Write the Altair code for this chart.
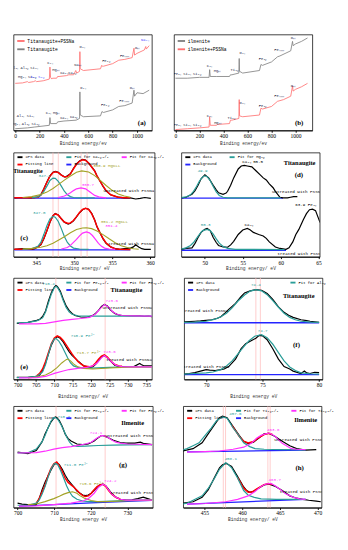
import altair as alt
import pandas as pd

# ---------------- colours ----------------
TEAL = "#2a9d98"; MAG = "#ff30ff"; OLV = "#a3a326"; RED = "#ff0000"
BLU = "#2424ff"; BLK = "#000000"; PINK = "#ffbcbc"; SRED = "#ff7070"; GRY = "#808080"
LBL = "#202040"

# ---------------- (a) survey, titanaugite ----------------
A_PSS = [[0,55],[60,55.5],[100,57],[110,56],[150,57],[165,58],[175,57],[230,58],[280,60],[285,74],[290,62],[300,60],[305,61],[340,61],[348,63],[360,63],[420,64],[440,65],[480,65],[497,70],[505,67],[528,69],[531,92],[534,72],[560,70],[700,72],[710,76],[715,75],[725,75],[800,78],[850,82],[900,83],[960,85],[975,96],[980,88],[1000,90],[1060,94],[1072,98],[1076,95],[1100,99]]
A_RAW = [[0,2],[100,3],[160,4],[280,6],[285,15],[290,8],[340,8],[348,10],[400,11],[500,12],[528,14],[531,45],[534,18],[560,16],[700,17],[712,22],[725,21],[800,24],[850,28],[900,29],[960,32],[975,47],[980,40],[1000,44],[1050,43],[1100,47]]
A_LABELS = [[75,73,"Al₂ₛ Al₂ₚ Si₂ₛ",LBL],[95,62,"Mg₂ₛ Si₂ₚ",LBL],[180,62,"S₂ₛ S₂ₚ","#3333ff"],[286,79,"C₁ₛ",LBL],[335,70,"Mgₖₗₗ",LBL],[400,67,"Ca₂ₛ",LBL],[466,67,"Ca₂ₚ",LBL],[515,76,"Naₖₗₗ",LBL],[550,97,"O₁ₛ",LBL],[745,81,"Fe₂ₚ",LBL],[898,87,"Feₗₘₘ",LBL],[1005,96,"Oₖₗₗ",LBL],[1065,105,"Na₁ₛ","#3333ff"],
            [85,17,"Al₂ₛ Si₂ₛ",LBL],[85,7,"Mg₂ₛ Al₂ₚ Si₂ₚ",LBL],[273,20,"C₁ₛ",LBL],[340,20,"Mgₖₗₗ",LBL],[400,14,"Ca₂ₛ",LBL],[480,16,"Ca₂ₚ",LBL],[557,49,"O₁ₛ",LBL],[735,30,"Fe₂ₚ",LBL],[893,34,"Feₗₘₘ",LBL],[962,50,"Oₖₗₗ",LBL]]

# ---------------- (b) survey, ilmenite ----------------
B_RAW = [[0,61],[100,61],[200,62],[280,62],[285,71],[290,63],[340,63],[450,63],[458,65],[470,65],[528,67],[531,84],[534,69],[560,67],[700,70],[712,77],[725,76],[800,80],[850,86],[870,87],[960,93],[975,104],[980,99],[1000,101],[1050,104],[1100,108]]
B_PSS = [[0,1],[100,2],[200,3],[280,4],[285,16],[290,6],[340,6],[350,7],[450,8],[458,12],[470,12],[528,14],[531,36],[534,17],[560,16],[700,18],[712,26],[725,25],[800,28],[850,34],[900,36],[960,40],[975,52],[980,46],[1000,48],[1050,51],[1100,55]]
B_LABELS = [[97,66,"Fe₃ₛ Si₂ₛ Si₂ₚ",LBL],[284,75,"C₁ₛ",LBL],[350,69,"Mgₖₗₗ",LBL],[490,70,"Ti₂ₚ",LBL],[557,90,"O₁ₛ",LBL],[726,83,"Fe₂ₚ",LBL],[863,94,"Feₗₘₘ",LBL],[982,108,"Oₖₗₗ",LBL],
            [97,6,"Fe₃ₛ Si₂ₛ Si₂ₚ",LBL],[284,17,"C₁ₛ",LBL],[353,9,"Mgₖₗₗ",LBL],[465,14,"Ti₂ₚ",LBL],[557,32,"O₁ₛ",LBL],[726,29,"Fe₂ₚ",LBL],[863,40,"Feₗₘₘ",LBL],[982,52,"Oₖₗₗ",LBL]]

# ---------------- (c) Ca 2p, titanaugite ----------------
C_XPS_UP = [[342.1,197],[343.2,198],[344.4,197],[345.2,199],[345.6,207],[346.0,227],[346.4,250],[346.8,270],[347.2,282],[347.5,285],[347.9,282],[348.3,273],[348.7,267],[348.9,267],[349.5,277],[349.9,295],[350.3,310],[350.7,320],[351.1,325],[351.5,323],[351.9,313],[352.3,300],[352.7,287],[353.0,270],[353.4,253],[353.8,235],[354.2,220],[354.8,207],[355.8,199],[356.6,197],[357.4,197],[358.1,193],[358.7,195],[359.3,198],[360.1,195]]
C_FIT_UP = [[342.1,197],[344.4,197],[345.2,199],[345.6,206],[346.0,226],[346.4,249],[346.8,269],[347.2,281],[347.5,284],[347.9,281],[348.3,273],[348.7,267],[349.1,268],[349.5,277],[349.9,294],[350.3,309],[350.7,319],[351.1,324],[351.5,322],[351.9,313],[352.3,300],[352.7,286],[353.0,270],[353.4,253],[353.8,236],[354.2,221],[354.8,207],[355.8,199],[356.6,197],[357.4,197]]
C_P32_UP = [[344.4,197],[345.2,200],[345.6,206],[346.0,218],[346.4,236],[346.8,255],[347.2,263],[347.5,262],[347.9,252],[348.3,236],[348.7,219],[349.1,207],[349.5,201],[349.9,198],[350.7,197],[352.7,197]]
C_MG_UP = [[343.2,198],[344.4,201],[345.6,208],[346.4,216],[347.2,228],[347.9,241],[348.7,256],[349.5,270],[350.3,282],[351.0,287],[351.9,283],[352.7,271],[353.4,256],[354.2,238],[355.0,222],[355.8,210],[356.6,203],[357.4,199]]
C_P12_UP = [[347.9,198],[348.7,203],[349.1,208],[349.5,214],[349.9,221],[350.3,227],[350.9,230],[351.5,227],[351.9,220],[352.3,212],[352.7,205],[353.4,199],[354.2,197]]
C_BG_UP = [[342.1,196],[357.4,196]]
C_XPS_LO = [[342.1,25],[343.2,27],[344.4,25],[344.8,27],[345.6,40],[346.0,60],[346.4,87],[346.8,115],[347.2,137],[347.5,145],[347.9,140],[348.3,127],[348.7,115],[349.2,109],[349.5,112],[349.9,120],[350.3,133],[350.7,147],[351.1,157],[351.5,162],[351.9,159],[352.3,145],[352.7,123],[353.0,100],[353.4,80],[353.8,60],[354.2,45],[354.8,33],[355.4,27],[356.0,25],[356.6,27],[357.4,29],[357.8,33],[358.1,40],[358.5,33],[358.9,27],[359.3,25],[360.1,25]]
C_FIT_LO = [[342.1,25],[344.4,26],[345.2,32],[345.6,42],[346.0,62],[346.4,88],[346.8,116],[347.2,137],[347.5,143],[347.9,139],[348.3,127],[348.7,116],[349.2,111],[349.5,113],[349.9,121],[350.3,134],[350.7,148],[351.1,158],[351.5,162],[351.9,158],[352.3,144],[352.7,122],[353.0,101],[353.4,80],[353.8,61],[354.2,46],[354.8,33],[355.4,27],[356.0,25],[357.4,24]]
C_P32_LO = [[343.2,25],[344.4,27],[345.2,35],[345.6,48],[346.0,75],[346.4,104],[346.8,127],[347.2,135],[347.5,132],[347.9,118],[348.3,94],[348.7,68],[349.1,48],[349.5,36],[349.9,29],[350.7,26],[351.9,25]]
C_MG_LO = [[343.2,26],[344.4,28],[345.6,32],[346.4,37],[347.2,45],[347.9,55],[348.7,67],[349.5,80],[350.3,91],[351.1,96],[351.6,97],[352.3,94],[353.0,86],[353.8,74],[354.6,60],[355.4,47],[356.2,37],[357.0,31],[357.8,27],[358.5,25]]
C_P12_LO = [[348.3,26],[349.1,31],[349.5,38],[349.9,48],[350.3,58],[350.7,70],[351.1,79],[351.6,83],[352.0,80],[352.4,71],[352.8,58],[353.2,45],[353.6,35],[354.0,29],[354.6,26],[355.4,25]]
C_BG_LO = [[342.1,23],[357.4,23]]
C_VLINES = [347.2, 347.9, 350.9, 351.7]
C_LABELS = [[346.1,270,"347.1",TEAL],[354.3,303,"350.9 MgKLL",OLV],[351.8,241,"350.7",MAG],[345.4,147,"347.0",TEAL],[355.3,117,"351.2 MgKLL",OLV],[354.9,103,"351.4",MAG]]
C_COND = [[357.2,218,"untreated with PSSNa"],[357.5,42,"treated with PSSNa"]]

# ---------------- (d) Mg 2p, titanaugite ----------------
D_XPS_UP = [[46.9,198],[47.5,200],[48.3,210],[48.7,222],[49.1,240],[49.5,262],[50.0,275],[50.5,265],[51.1,240],[51.5,225],[51.8,215],[52.4,210],[52.8,214],[53.0,220],[53.4,240],[53.8,265],[54.4,295],[54.8,305],[55.2,307],[55.6,305],[56.2,302],[56.7,290],[57.3,275],[57.7,265],[58.1,258],[58.5,245],[59.0,232],[59.3,220],[59.9,200],[60.3,198],[60.9,198],[61.3,200],[61.7,202],[62.2,202]]
D_MG_UP = [[46.9,199],[47.5,201],[48.1,208],[48.5,220],[48.9,236],[49.3,255],[49.7,268],[50.0,272],[50.3,269],[50.7,256],[51.1,236],[51.5,218],[51.9,206],[52.4,200],[53.0,198],[60.0,198]]
D_BG_UP = [[46.9,197],[60.3,197]]
D_XPS_LO = [[46.9,25],[47.5,28],[48.3,30],[48.7,45],[49.1,65],[49.5,82],[50.0,92],[50.3,95],[50.7,88],[51.1,65],[51.5,48],[51.8,38],[52.4,33],[53.0,32],[53.4,40],[53.8,52],[54.4,75],[55.0,90],[55.6,95],[56.0,90],[56.4,82],[57.1,75],[57.7,70],[58.1,62],[58.5,50],[59.3,33],[59.9,28],[60.7,25],[61.1,30],[61.6,50],[62.0,75],[62.4,92],[63.0,125],[63.4,145],[63.8,158],[64.2,160],[64.6,155],[64.9,135],[65.2,115]]
D_MG_LO = [[46.9,26],[47.5,30],[48.1,38],[48.5,48],[48.9,62],[49.3,76],[49.7,88],[50.3,92],[50.7,88],[51.1,76],[51.5,60],[51.9,46],[52.4,35],[53.0,28],[54.0,25],[60.5,24]]
D_BG_LO = [[46.9,22],[60.7,22]]
D_LABELS = [[49.7,287,"49.9",TEAL],[56.3,318,"Ca₃ₛ 55.5",BLK],[50.1,106,"50.3",TEAL],[55.8,106,"Ca₃ₛ",BLK],[63.3,172,"63.9 Fe₃ₛ",BLK]]
D_COND = [[62.2,218,"untreated with PSSNa"],[62.6,10,"treated with PSSNa"]]

# ---------------- (e) Fe 2p, titanaugite ----------------
E_XPS_UP = [[699.8,187],[702.8,190],[705.2,197],[706.0,200],[706.8,210],[707.6,228],[708.4,262],[709.2,290],[710.0,308],[710.4,313],[710.8,310],[711.6,295],[712.4,268],[713.2,245],[714.0,230],[714.8,220],[715.6,213],[717.2,208],[718.8,207],[720.4,213],[721.2,220],[722.0,230],[722.8,243],[723.6,250],[724.4,245],[725.2,232],[726.4,220],[727.6,214],[728.4,213],[731.6,212],[733.2,212],[734.4,210],[735.6,211],[737.2,208]]
E_P32_UP = [[699.8,188],[702.8,190],[705.2,195],[706.8,205],[707.6,225],[708.4,255],[709.2,285],[710.0,306],[710.4,310],[710.8,307],[711.6,290],[712.4,263],[713.2,240],[714.0,225],[714.8,217],[716.4,212],[718.8,211],[737.0,211]]
E_P12_UP = [[700.4,185],[705.2,185],[707.6,187],[710.0,192],[712.4,197],[714.8,200],[717.2,203],[719.6,207],[721.2,218],[722.4,235],[723.6,250],[724.8,240],[725.6,228],[726.8,218],[728.4,213],[731.6,212],[737.0,211]]
E_XPS_LO = [[699.8,7],[702.8,7],[705.2,10],[706.0,15],[706.8,30],[707.6,55],[708.4,85],[709.2,115],[710.0,135],[710.8,142],[711.6,137],[712.4,125],[713.2,108],[714.0,93],[714.8,80],[716.4,62],[718.0,45],[719.6,40],[720.4,42],[721.2,50],[722.0,62],[722.8,75],[723.6,80],[724.4,72],[725.2,62],[726.4,47],[727.6,43],[728.4,43],[731.6,43],[733.2,53],[733.6,50],[734.4,45],[735.6,45],[737.2,45]]
E_FIT_LO = [[705.2,12],[706.0,20],[706.8,35],[707.6,60],[708.4,90],[709.2,120],[710.0,138],[710.8,145],[711.6,140],[712.4,130],[713.2,115],[714.0,100],[714.8,85],[715.6,72],[716.4,60],[717.2,52],[718.0,45],[719.6,42],[720.4,45],[721.2,55],[722.0,67],[722.8,78],[723.6,82],[724.4,75],[725.2,63],[726.4,50],[727.6,45],[728.4,44]]
E_P32_LO = [[699.8,6],[702.8,7],[705.2,10],[706.8,25],[707.6,50],[708.4,85],[709.2,118],[710.0,135],[710.4,137],[711.2,128],[712.0,112],[712.8,92],[713.6,72],[714.4,55],[715.2,45],[716.4,40],[718.0,38],[720.0,38],[725.0,40],[730.0,42],[737.0,42]]
E_FE3_LO = [[702.8,5],[705.2,8],[707.6,15],[709.2,25],[710.8,40],[712.0,55],[713.2,66],[713.6,68],[714.4,62],[715.2,52],[716.4,42],[718.0,37],[720.4,35],[725.0,38],[730.0,41],[737.0,42]]
E_P12_LO = [[700.4,5],[702.8,5],[705.2,6],[707.6,10],[710.0,20],[712.4,28],[714.0,33],[716.4,37],[718.8,40],[720.4,45],[721.6,55],[722.8,72],[723.6,80],[724.4,72],[725.6,58],[726.8,47],[728.4,43],[731.6,42],[737.0,42]]
E_VLINES = [710.4, 723.8]
E_LABELS = [[708.4,318,"710.4",TEAL],[725.6,262,"723.6",MAG],[717.6,146,"710.9 Fe²⁺",TEAL],[719.2,88,"713.7 Fe³⁺",OLV],[725.0,91,"723.6",MAG]]
E_COND = [[730.0,238,"untreated with PSSNa"],[730.3,64,"treated with PSSNa"]]

# ---------------- (f) Al 2p, titanaugite ----------------
F_XPS_UP = [[68.0,193],[69.0,195],[69.5,196],[70.0,198],[70.5,200],[71.0,205],[71.3,210],[71.6,220],[72.0,235],[72.6,255],[73.1,278],[73.4,290],[73.9,297],[74.4,301],[74.9,299],[75.1,295],[75.4,288],[75.9,268],[76.4,243],[76.9,225],[77.3,215],[77.7,208],[78.4,200],[78.9,197],[79.2,195],[80.0,191]]
F_AL_UP = [[68.0,191],[69.0,192],[70.0,195],[70.8,202],[71.3,210],[71.8,222],[72.3,240],[72.8,262],[73.4,283],[73.9,296],[74.4,301],[74.9,297],[75.4,284],[75.9,264],[76.4,242],[76.9,222],[77.4,208],[77.9,200],[78.4,195],[79.2,192],[80.0,191]]
F_BG_UP = [[68.0,190],[80.0,190]]
F_XPS_LO = [[68.0,18],[68.5,20],[69.0,23],[69.5,28],[70.0,33],[70.3,31],[70.8,30],[71.3,33],[71.6,35],[72.0,43],[72.6,68],[73.1,103],[73.5,120],[73.9,128],[74.4,138],[74.7,148],[75.0,146],[75.4,133],[75.9,103],[76.4,68],[76.9,43],[77.4,35],[77.7,28],[78.4,20],[78.7,28],[78.9,22],[79.2,20],[79.6,24],[80.0,23]]
F_AL_LO = [[68.0,18],[69.0,20],[70.0,22],[70.6,25],[71.3,33],[71.8,45],[72.3,62],[72.8,85],[73.3,108],[73.8,130],[74.3,145],[74.9,150],[75.4,140],[75.9,118],[76.4,90],[76.9,62],[77.4,42],[77.9,30],[78.4,22],[79.2,19],[80.0,18]]
F_BG_LO = [[68.0,16],[80.0,16]]
F_VLINES = [74.4, 74.8]
F_LABELS = [[74.4,317,"74.4",TEAL],[75.0,162,"74.7",TEAL]]
F_COND = [[69.7,228,"untreated with PSSNa"],[70.0,40,"treated with PSSNa"]]

# ---------------- (g) Fe 2p, ilmenite ----------------
G_XPS_UP = [[700.0,185],[702.8,180],[705.1,190],[705.9,205],[706.7,220],[707.5,245],[708.3,265],[709.1,285],[709.9,298],[710.3,302],[710.7,300],[711.4,290],[712.2,270],[713.0,245],[713.8,230],[714.6,222],[716.2,212],[717.8,210],[719.3,212],[720.9,222],[721.7,230],[722.9,240],[723.4,240],[724.1,236],[724.9,232],[726.0,225],[726.8,222],[728.0,217],[729.6,215],[732.0,215],[733.5,218],[734.3,214],[736.7,210]]
G_P32_UP = [[700.0,182],[702.8,183],[705.1,195],[706.7,220],[707.5,240],[708.3,265],[709.1,288],[709.9,300],[710.3,300],[711.0,294],[711.8,278],[712.6,258],[713.4,235],[714.2,218],[715.0,208],[716.2,204],[718.5,205],[722.0,207],[726.0,208],[730.0,209],[736.7,210]]
G_P12_UP = [[700.0,182],[705.1,183],[707.5,188],[709.9,195],[712.2,200],[714.6,203],[717.0,208],[718.5,212],[720.1,218],[721.7,232],[722.9,240],[723.4,240],[724.5,235],[725.7,225],[726.8,218],[728.0,215],[730.0,212],[736.7,210]]
G_XPS_LO = [[700.0,15],[701.2,12],[702.8,10],[705.1,10],[705.9,30],[706.7,60],[707.5,85],[708.3,105],[709.1,125],[709.9,142],[710.7,150],[711.4,143],[712.2,128],[713.0,108],[713.8,92],[714.6,80],[715.4,68],[716.2,55],[717.8,42],[718.5,40],[719.3,42],[720.1,48],[720.9,58],[721.7,68],[722.5,76],[723.3,78],[724.1,72],[724.9,60],[725.7,47],[726.8,35],[728.0,28],[729.6,25],[731.2,26],[732.8,30],[734.3,35],[735.5,30],[736.7,25]]
G_FIT_LO = [[705.1,15],[705.9,30],[706.7,52],[707.5,75],[708.3,105],[709.1,130],[709.9,146],[710.7,152],[711.4,140],[712.2,120],[713.0,98],[713.8,84],[714.6,76],[715.4,68],[716.2,58],[717.0,48],[717.8,40],[718.5,37],[719.3,39],[720.1,48],[720.9,60],[721.7,70],[722.5,76],[723.3,78],[724.1,70],[724.9,56],[725.7,45],[726.8,34],[728.0,29]]
G_P32_LO = [[700.0,8],[702.8,8],[705.1,15],[705.9,25],[706.7,45],[707.5,70],[708.3,100],[709.1,128],[709.9,145],[710.3,148],[711.0,142],[711.8,122],[712.6,98],[713.4,72],[714.2,52],[715.0,38],[716.2,28],[717.8,22],[719.3,20],[722.0,20],[726.0,22],[730.0,24],[736.7,26]]
G_FE3_LO = [[702.8,10],[705.1,12],[707.5,20],[709.9,30],[711.4,38],[712.6,45],[713.8,50],[715.0,53],[716.2,48],[717.0,40],[718.5,30],[720.1,24],[721.7,20],[724.0,20],[730.0,23],[736.7,25]]
G_P12_LO = [[700.4,5],[705.1,6],[709.9,10],[714.6,15],[717.8,22],[719.3,30],[720.9,48],[722.1,68],[723.3,78],[724.1,72],[724.9,58],[725.7,45],[726.8,35],[728.0,28],[729.6,25],[732.0,25],[736.7,25]]
G_BG_LO = [[700.4,5],[710.0,10],[720.0,16],[730.0,21],[736.7,24]]
G_VLINES = [710.5, 723.9]
G_LABELS = [[712.6,302,"710.7",TEAL],[721.4,249,"724.1",MAG],[715.8,141,"711.0 Fe²⁺",TEAL],[720.0,78,"715.6 Fe³⁺",OLV],[725.3,87,"724.2",MAG]]
G_COND = [[730.8,237,"untreated with PSSNa"],[731.6,50,"treated with PSSNa"]]

# ---------------- (h) Ti 2p, ilmenite ----------------
H_XPS_UP = [[452.1,192],[453.5,200],[454.7,220],[455.5,250],[456.3,280],[457.0,305],[457.4,310],[458.0,305],[458.8,275],[459.6,245],[460.2,225],[460.8,217],[461.5,222],[462.3,238],[462.9,250],[463.5,252],[464.3,242],[465.3,225],[466.3,210],[467.2,200],[468.4,195],[469.8,197]]
H_PA_UP = [[452.1,195],[452.7,200],[453.5,210],[454.3,220],[455.1,245],[455.9,270],[456.6,295],[457.4,308],[458.0,303],[458.8,270],[459.4,250],[460.2,220],[461.0,207],[461.7,200],[462.9,198],[465.3,197],[467.2,197],[468.4,195]]
H_PB_UP = [[452.7,188],[455.1,190],[457.0,192],[458.8,198],[460.2,205],[461.2,218],[461.9,235],[462.5,245],[463.1,250],[463.6,253],[464.3,243],[465.3,218],[466.5,200],[467.2,198],[468.4,197]]
H_FIT_UP = [[458.6,280],[459.2,258],[459.6,242],[460.2,225],[460.8,219],[461.5,224],[462.1,236],[462.9,248],[463.5,252],[464.0,248]]
H_BG_UP = [[452.7,189],[468.4,195]]
H_XPS_LO = [[452.1,15],[453.5,20],[454.7,35],[455.5,60],[456.3,100],[457.0,135],[457.4,145],[457.9,150],[458.6,140],[459.4,105],[460.2,70],[460.6,58],[461.0,52],[461.5,55],[462.1,65],[462.9,77],[463.5,80],[464.3,73],[465.3,58],[466.3,40],[467.2,32],[468.0,28],[468.8,25],[469.8,22],[470.4,20]]
H_PA_LO = [[452.1,12],[452.7,15],[454.7,40],[455.5,65],[456.3,98],[457.0,130],[457.8,152],[458.0,150],[458.6,135],[459.4,100],[460.2,58],[460.8,42],[461.6,35],[462.5,30],[464.5,28],[466.8,28],[468.4,28]]
H_PB_LO = [[452.7,12],[455.1,14],[457.8,20],[459.4,28],[460.8,40],[461.7,55],[462.5,72],[463.1,80],[463.8,82],[464.3,75],[465.0,62],[465.7,48],[466.8,35],[467.6,30],[468.4,28]]
H_FIT_LO = [[459.4,102],[460.2,66],[460.8,52],[461.3,53],[462.1,66],[462.9,78],[463.5,82],[464.0,78]]
H_BG_LO = [[452.7,12],[468.4,28]]
H_VLINES = [457.5, 457.8, 463.4, 463.7]
H_LABELS = [[459.1,318,"457.6",TEAL],[464.1,264,"463.6",MAG],[458.5,164,"458.1",TEAL],[464.3,93,"463.7",MAG]]
H_COND = [[467.6,230,"untreated with PSSNa"],[468.0,52,"treated with PSSNa"]]


def curves_df(curves):
    rows = []
    for s, g, pts in curves:
        for x, y in pts:
            rows.append({"x": x, "y": y, "s": s, "g": g})
    return pd.DataFrame(rows)


def panel(p):
    xs = alt.X("x:Q", scale=alt.Scale(domain=p["xdom"], nice=False, zero=False),
               axis=alt.Axis(values=p["ticks"], title=p["xtitle"], titlePadding=p["tpad"],
                             labelFlush=False, format="d"))
    ys = alt.Y("y:Q", scale=alt.Scale(domain=p["ydom"], nice=False, zero=False), axis=None)
    col = alt.Color("s:N", scale=alt.Scale(domain=p["cdom"], range=p["crange"]),
                    legend=alt.Legend(title=None, values=p["lvals"], orient="none", offset=0, padding=0,
                                      direction="horizontal",
                                      legendX=p["lx"], legendY=p["ly"], columns=p["lcols"],
                                      columnPadding=p["lcp"], labelFontSize=p.get("lfs", 4.2),
                                      symbolSize=p.get("lss", 30)))
    layers = []
    if p.get("vlines"):
        layers.append(alt.Chart(pd.DataFrame({"x": p["vlines"]}))
                      .mark_rule(color=PINK, strokeWidth=0.8).encode(x=xs))
    for s, w in p["draw"]:
        df = curves_df([c for c in p["curves"] if c[0] == s])
        layers.append(alt.Chart(df).mark_line(strokeWidth=w, clip=True)
                      .encode(x=xs, y=ys, color=col, detail="g:N"))
    if p.get("labels"):
        lab = pd.DataFrame(p["labels"], columns=["x", "y", "t", "c"])
        layers.append(alt.Chart(lab).mark_text(font="Liberation Mono", fontSize=p.get("nfs", 4.5), clip=True)
                      .encode(x=xs, y=ys, text="t:N", fill=alt.Fill("c:N", scale=None)))
    if p.get("cond"):
        cd = pd.DataFrame(p["cond"], columns=["x", "y", "t"])
        layers.append(alt.Chart(cd).mark_text(font="Liberation Mono", fontSize=4.6, color=BLK, clip=True)
                      .encode(x=xs, y=ys, text="t:N"))
    if p.get("name"):
        nd = pd.DataFrame([p["name"]], columns=["x", "y", "t"])
        layers.append(alt.Chart(nd).mark_text(font="Liberation Serif", fontSize=p.get("nmfs", 7), fontWeight="bold",
                                              color=BLK, clip=True)
                      .encode(x=xs, y=ys, text="t:N"))
    td = pd.DataFrame([p["tag"]], columns=["x", "y", "t"])
    layers.append(alt.Chart(td).mark_text(font="Liberation Serif", fontSize=7.5, fontWeight="bold", color=BLK, clip=True)
                  .encode(x=xs, y=ys, text="t:N"))
    return alt.layer(*layers).properties(width=p["w"], height=p["h"])


def hr_curves(xps_up, fit_up, a_up, ol_up, b_up, bg_up, xps_lo, fit_lo, a_lo, ol_lo, b_lo, bg_lo, names):
    out = []
    for s, up, lo in [(names[0], xps_up, xps_lo), (names[3], fit_up, fit_lo), (names[1], a_up, a_lo),
                      (names[5], ol_up, ol_lo), (names[2], b_up, b_lo), (names[4], bg_up, bg_lo)]:
        if up:
            out.append((s, "up", up))
        if lo:
            out.append((s, "lo", lo))
    return out


def hr_panel(names, curves, **kw):
    base = dict(cdom=names, crange=[BLK, TEAL, MAG, RED, BLU, OLV], lvals=names[:5],
                draw=[(names[4], 1.4), (names[0], 1.3), (names[3], 1.6), (names[1], 1.3), (names[5], 1.2), (names[2], 1.3)],
                curves=curves, lx=3, ly=1, lcols=3, lcp=9)
    base.update(kw)
    return panel(base)


BE = "Binding energy/ eV"

pa = panel(dict(xdom=[-14, 1122], ydom=[0, 112], ticks=[0, 200, 400, 600, 800, 1000], xtitle="Binding energy/ev",
                tpad=2, cdom=["Titanaugite+PSSNa", "Titanaugite"], crange=[SRED, GRY],
                lvals=["Titanaugite+PSSNa", "Titanaugite"], lx=3, ly=2, lcols=1, lcp=4, lfs=5, lss=64,
                draw=[("Titanaugite", 0.9), ("Titanaugite+PSSNa", 0.9)],
                curves=[("Titanaugite+PSSNa", "up", A_PSS), ("Titanaugite", "lo", A_RAW)],
                labels=A_LABELS, nfs=4.0, tag=[1040, 9, "(a)"], w=150, h=104))
pb = panel(dict(xdom=[-12, 1140], ydom=[0, 112], ticks=[0, 200, 400, 600, 800, 1000], xtitle="Binding energy/ev",
                tpad=2, cdom=["ilmenite", "ilmenite+PSSNa"], crange=[GRY, SRED],
                lvals=["ilmenite", "ilmenite+PSSNa"], lx=3, ly=2, lcols=1, lcp=4, lfs=5, lss=64,
                draw=[("ilmenite", 0.9), ("ilmenite+PSSNa", 0.9)],
                curves=[("ilmenite", "up", B_RAW), ("ilmenite+PSSNa", "lo", B_PSS)],
                labels=B_LABELS, nfs=4.0, tag=[1030, 9, "(b)"], w=150, h=104))

cn = ["XPS data", "Fit for Ca₂ₚ₃/₂", "Fit for Ca₂ₚ₁/₂", "Fitting line", "Background", "MgKLL"]
pc = hr_panel(cn, hr_curves(C_XPS_UP, C_FIT_UP, C_P32_UP, C_MG_UP, C_P12_UP, C_BG_UP,
                            C_XPS_LO, C_FIT_LO, C_P32_LO, C_MG_LO, C_P12_LO, C_BG_LO, cn),
              xdom=[342.0, 360.6], ydom=[0, 348], ticks=[345, 350, 355, 360], xtitle=BE, tpad=1,
              vlines=C_VLINES, labels=C_LABELS, cond=C_COND, name=[343.9, 287, "Titanaugite"], nmfs=6.5,
              tag=[343.4, 62, "(c)"], w=153, h=113)

dn = ["XPS data", "Fit for Mg₂ₚ", "Background"]
pd_ = panel(dict(xdom=[46.9, 65.15], ydom=[0, 350], ticks=[50, 55, 60, 65], xtitle=BE, tpad=1,
                 cdom=dn, crange=[BLK, TEAL, BLU], lvals=dn, lx=3, ly=1, lcols=2, lcp=9,
                 draw=[("Background", 1.4), ("XPS data", 1.3), ("Fit for Mg₂ₚ", 1.3)],
                 curves=[("XPS data", "up", D_XPS_UP), ("XPS data", "lo", D_XPS_LO),
                         ("Fit for Mg₂ₚ", "up", D_MG_UP), ("Fit for Mg₂ₚ", "lo", D_MG_LO),
                         ("Background", "up", D_BG_UP), ("Background", "lo", D_BG_LO)],
                 labels=D_LABELS, cond=D_COND, name=[62.5, 316, "Titanaugite"], tag=[62.4, 275, "(d)"],
                 w=150, h=113))

en = ["XPS data", "Fit for Fe₂ₚ₃/₂", "Fit for Fe₂ₚ₁/₂", "Fitting line", "Background", "Fe3+"]
pe = hr_panel(en, hr_curves(E_XPS_UP, None, E_P32_UP, None, E_P12_UP, None,
                            E_XPS_LO, E_FIT_LO, E_P32_LO, E_FE3_LO, E_P12_LO, None, en),
              xdom=[698.9, 736.5], ydom=[0, 338], ticks=[700, 705, 710, 715, 720, 725, 730, 735], xtitle=BE,
              tpad=7, vlines=E_VLINES, labels=E_LABELS, cond=E_COND, name=[729.6, 296, "Titanaugite"],
              tag=[701.8, 42, "(e)"], w=150, h=110)

fn = ["XPS data", "Fit for Al₂ₚ", "Background"]
pf = panel(dict(xdom=[68.05, 80.3], ydom=[0, 340], ticks=[70, 75, 80], xtitle="Binding energy eV", tpad=7,
                cdom=fn, crange=[BLK, TEAL, BLU], lvals=fn, lx=3, ly=1, lcols=2, lcp=72,
                draw=[("Background", 1.4), ("XPS data", 1.3), ("Fit for Al₂ₚ", 1.3)],
                curves=[("XPS data", "up", F_XPS_UP), ("XPS data", "lo", F_XPS_LO),
                        ("Fit for Al₂ₚ", "up", F_AL_UP), ("Fit for Al₂ₚ", "lo", F_AL_LO),
                        ("Background", "up", F_BG_UP), ("Background", "lo", F_BG_LO)],
                vlines=F_VLINES, labels=F_LABELS, cond=F_COND, name=[78.2, 280, "Titanaugite"],
                tag=[78.0, 116, "(f)"], w=150, h=110))

gn = ["XPS data", "Fit for Fe₂ₚ₃/₂", "Fit for Fe₂ₚ₁/₂", "Fitting line", "Background", "Fe3+"]
pg = hr_panel(gn, hr_curves(G_XPS_UP, None, G_P32_UP, None, G_P12_UP, None,
                            G_XPS_LO, G_FIT_LO, G_P32_LO, G_FE3_LO, G_P12_LO, G_BG_LO, gn),
              xdom=[698.9, 736.9], ydom=[0, 338], ticks=[700, 710, 720, 730], xtitle="Binding energy eV",
              tpad=1, vlines=G_VLINES, labels=G_LABELS, cond=G_COND, name=[731.4, 282, "Ilmenite"],
              tag=[728.8, 142, "(g)"], w=151, h=110)

hn = ["XPS data", "Fit for Ti₂ₚ₁/₂", "Fit for Ti₂ₚ₃/₂", "Fitting line", "Background", "none"]
ph = hr_panel(hn, hr_curves(H_XPS_UP, H_FIT_UP, H_PA_UP, None, H_PB_UP, H_BG_UP,
                            H_XPS_LO, H_FIT_LO, H_PA_LO, None, H_PB_LO, H_BG_LO, hn),
              xdom=[452.2, 470.5], ydom=[0, 344], ticks=[455, 460, 465, 470], xtitle=BE,
              tpad=1, vlines=H_VLINES, labels=H_LABELS, cond=H_COND, name=[468.4, 297, "Ilmenite"],
              tag=[467.6, 135, "(h)"], w=150, h=110)


def row(a, b, sp):
    return alt.hconcat(a, b, spacing=sp).resolve_scale(x="independent", y="independent", color="independent")


chart = alt.vconcat(row(pa, pb, 22), row(pc, pd_, 16), row(pe, pf, 19), row(pg, ph, 18), spacing=6,
                    padding=5)
chart = chart.resolve_scale(x="independent", y="independent", color="independent").configure_view(
    stroke=BLK, strokeWidth=0.8
).configure_axis(
    grid=False, tickSize=2, labelPadding=1, labelFont="Liberation Serif", labelFontSize=6,
    labelColor=BLK, titleFont="Liberation Mono", titleFontSize=5, titleFontWeight="normal",
    titleColor="#333333", domainColor=BLK, tickColor=BLK
).configure_legend(
    labelFont="Liberation Mono", symbolType="stroke", symbolStrokeWidth=2, rowPadding=0,
    labelOffset=2, padding=0, offset=0, labelColor=BLK
)

chart.save("out.html", embed_options={"renderer": "svg", "actions": False})
